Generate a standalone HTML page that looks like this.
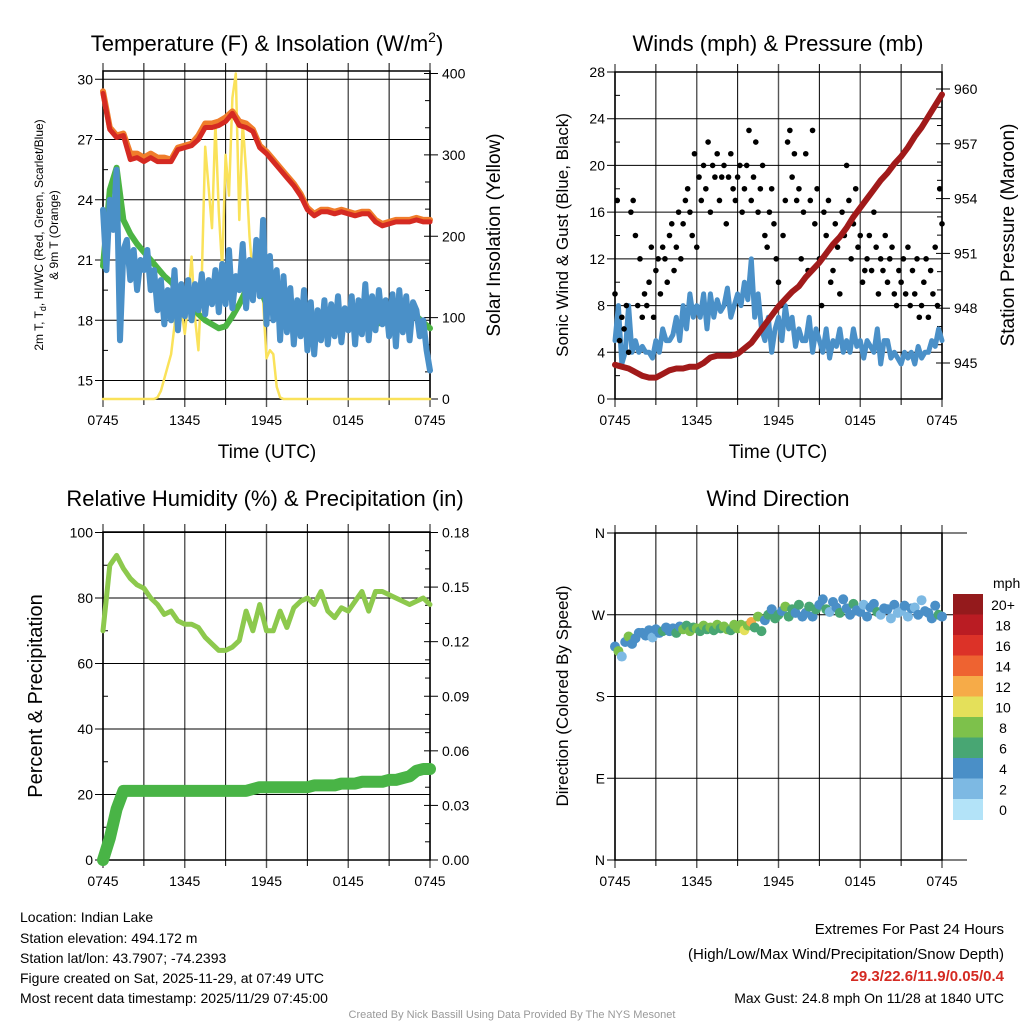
<!DOCTYPE html>
<html><head><meta charset="utf-8"><style>
html,body{margin:0;padding:0;background:#fff;}
svg{display:block;font-family:"Liberation Sans",sans-serif;}
</style></head><body>
<svg id="c" width="1024" height="1024" viewBox="0 0 1024 1024" xmlns="http://www.w3.org/2000/svg">
<rect x="0" y="0" width="1024" height="1024" fill="#fff"/>
<g font-size="22" text-anchor="middle" fill="#000">
<text x="267" y="51">Temperature (F) &amp; Insolation (W/m<tspan font-size="14" dy="-9">2</tspan><tspan dy="9">)</tspan></text>
<text x="778" y="51">Winds (mph) &amp; Pressure (mb)</text>
<text x="265" y="506">Relative Humidity (%) &amp; Precipitation (in)</text>
<text x="778" y="506">Wind Direction</text>
</g>
<g font-size="19" text-anchor="middle">
<text x="267" y="458">Time (UTC)</text>
<text x="778" y="458">Time (UTC)</text>
<text transform="translate(500,235) rotate(-90)">Solar Insolation (Yellow)</text>
<text transform="translate(568,235) rotate(-90)" font-size="17">Sonic Wind &amp; Gust (Blue, Black)</text>
<text transform="translate(1014,235) rotate(-90)">Station Pressure (Maroon)</text>
<text transform="translate(42,696) rotate(-90)" font-size="20">Percent &amp; Precipitation</text>
<text transform="translate(568,696) rotate(-90)" font-size="17">Direction (Colored By Speed)</text>
</g>
<g font-size="12" text-anchor="middle">
<text transform="translate(43,235) rotate(-90)">2m T, T<tspan font-size="9" dy="3">d</tspan><tspan dy="-3">, HI/WC (Red, Green, Scarlet/Blue)</tspan></text>
<text transform="translate(58,235) rotate(-90)">&amp; 9m T (Orange)</text>
</g>
<g font-size="14" fill="#000">
<text x="20" y="922">Location: Indian Lake</text>
<text x="20" y="943">Station elevation: 494.172 m</text>
<text x="20" y="963">Station lat/lon: 43.7907; -74.2393</text>
<text x="20" y="983">Figure created on Sat, 2025-11-29, at 07:49 UTC</text>
<text x="20" y="1003">Most recent data timestamp: 2025/11/29 07:45:00</text>
<g text-anchor="end">
<text x="1004" y="934" font-size="15">Extremes For Past 24 Hours</text>
<text x="1004" y="959" font-size="15">(High/Low/Max Wind/Precipitation/Snow Depth)</text>
<text x="1004" y="981" font-size="15" font-weight="bold" fill="#d42a22">29.3/22.6/11.9/0.05/0.4</text>
<text x="1004" y="1003">Max Gust: 24.8 mph On 11/28 at 1840 UTC</text>
</g>
<text x="512" y="1018" font-size="11" fill="#999" text-anchor="middle">Created By Nick Bassill Using Data Provided By The NYS Mesonet</text>
</g>
</svg>
<script>
// ---- data ----
const timeLabels = ["0745","1345","1945","0145","0745"];
const tempTicks = [15,18,21,24,27,30];
const solarTicks = [0,100,200,300,400];
const windTicks = [0,4,8,12,16,20,24,28];
const pressTicks = [945,948,951,954,957,960];
const rhTicks = [0,20,40,60,80,100];
const precipTicks = [0,0.03,0.06,0.09,0.12,0.15,0.18];
const dirTicks = ["N","E","S","W","N"];
const speedBins = ["0","2","4","6","8","10","12","14","16","18","20+"];
const speedColors = ["#b3e3f8","#7db9e3","#4a8fc7","#48a673","#7dc14b","#e4e05a","#f6ab48","#ee6331","#dc3228","#ba1c23","#941a1c"];

const tempRed = [29.3,27.5,27.1,27.2,26.0,26.1,25.9,26.1,25.9,25.9,25.9,26.5,26.6,26.7,27.0,27.6,27.6,27.7,27.9,28.3,27.7,27.6,27.4,26.6,26.3,25.9,25.5,25.1,24.7,24.2,23.5,23.2,23.4,23.4,23.3,23.4,23.3,23.2,23.3,23.3,22.9,22.7,22.8,22.9,22.9,22.9,23.0,22.9,22.9];
const tempOrange = [29.4,27.6,27.2,27.3,26.3,26.3,26.1,26.3,26.1,26.1,26.0,26.6,26.7,26.8,27.2,27.8,27.8,27.9,28.1,28.4,27.9,27.8,27.5,26.7,26.4,26.0,25.6,25.2,24.8,24.3,23.6,23.3,23.5,23.5,23.4,23.5,23.4,23.3,23.4,23.4,23.0,22.8,22.9,23.0,23.0,23.0,23.1,23.0,23.0];
const tempGreen = [20.7,24.5,25.6,23.0,22.3,21.8,21.4,21.0,20.6,20.2,19.9,19.5,19.3,18.8,18.3,18.0,17.8,17.6,17.7,18.2,18.8,19.5,20.0,19.6,18.8,18.5,18.3,18.0,18.2,17.9,17.5,17.8,17.9,17.6,17.7,18.0,17.8,17.6,17.9,18.1,17.8,17.9,18.2,18.0,17.9,18.1,18.2,17.9,17.6];
const tempBlue = [23.5,20.5,24,22.5, 25.5,17,21.5,22.0, 20.0,21.5,19.5,21.0, 20.5,21.5,19.5,20.5, 18.5,20.0,17.8,19.5, 18.0,20.5,17.5,19.8, 18.2,20.0,18.0,19.8, 18.5,20.3,18.3,20.0, 18.8,20.5,18.4,20.8, 18.8,21.5,18.6,20.2, 19.5,21.8,18.6,21.0, 19.0,22.0,19.2,23.0, 17.8,21.2,18.0,20.5, 17.0,20.2,17.4,19.6, 16.8,19.0,17.2,19.5, 16.5,18.9,16.3,18.5, 17.0,19.0,16.8,18.8, 17.2,19.2,16.9,18.6, 17.5,19.2,16.8,19.0, 17.3,19.8,17.0,19.2, 17.5,19.5,17.8,19.0, 17.2,19.3,16.7,19.5, 17.4,19.2,17.0,18.9, 18.5,17.2,18.0,16.5, 15.5];
const solar = [0,0,0,0,0,0,0,0,0,0,0,0,0,0,0,0, 2,10,25,40,55,90,135,110,80,120,175,100,60,150,310,260,210,340,230,160,300,250,370,400,220,340,280,200,150,170,185,120,50,60,55,15,2, 0,0,0,0,0,0,0,0,0,0,0,0,0,0,0,0,0,0,0,0,0,0,0,0,0,0,0,0,0,0,0,0,0,0,0,0,0,0,0,0,0,0,0,0];

const windSpeed = [5,8,3,4, 8,4,5,4, 4.5,4,4,3.5, 5,4,6,5, 5,5.5,7,5, 8,6,9,7, 8,7,9,6, 9,7,8.5,7.5, 8,9.5,7,8, 9,8,10,8.5, 12,7,9,6, 5,7,4,6, 7,5,8,6, 7,4.5,6,5, 5,7,4,6, 5,4,6,3.5, 5,4.5,6,4, 5,4,6,4.5, 5,3.5,5,4.5, 4,6,3,5, 5,3.5,4,3.5, 3,4,3.5,4, 3,4.5,3.5,4, 4,5,4.5,6, 5];
const windGust = [9,17,5,7,6,8, 4,16,17,14,8,12, 7,9,8,10,13,7, 11,12,9,13,12,10, 14,15,11,13,16,12, 15,17,18,16,14,21, 13,19,17,20,18,22, 16,20,19,21,17,19, 20,15,19,21,18,17, 19,20,16,18,20,23, 17,19,22,16,18,20, 14,13,16,18,15,12, 10,8,14,17,22,23, 19,21,17,18,12,16, 21,11,17,23,15,18, 12,8,16,14,17,10, 11,15,13,9,16,14, 20,17,12,15,18,13, 14,10,11,12,14,11, 16,13,9,12,11,14, 10,12,13,9,8,11, 10,12,9,13,8,11, 9,12,7,8,10,12, 7,11,9,13,8,18, 15];
const pressure = [944.9,944.8,944.7,944.5,944.3,944.2,944.2,944.4,944.6,944.7,944.7,944.8,944.8,945.0,945.3,945.4,945.4,945.4,945.5,945.8,946.1,946.6,947.1,947.6,948.1,948.5,948.9,949.2,949.7,950.1,950.5,951.0,951.5,951.9,952.4,953.0,953.5,954.0,954.5,955.0,955.4,955.9,956.3,956.8,957.4,957.9,958.5,959.1,959.7];

const rh = [70,90,93,89,86,84,83,80,78,75,76,73,72,72,71,68,66,64,64,65,67,76,70,78,70,70,76,71,77,79,80,78,82,76,74,77,76,79,82,76,82,82,81,80,79,78,79,80,78];
const precip = [0,0.012,0.028,0.038,0.038,0.038,0.038,0.038,0.038,0.038,0.038,0.038,0.038,0.038,0.038,0.038,0.038,0.038,0.038,0.038,0.038,0.038,0.039,0.040,0.040,0.040,0.040,0.040,0.040,0.040,0.040,0.041,0.041,0.041,0.041,0.042,0.042,0.042,0.043,0.043,0.043,0.043,0.044,0.044,0.045,0.046,0.049,0.050,0.050];
const windDir = [235,230,224,240, 246,238,244,250, 250,247,253,245, 254,250,252,256, 252,255,250,257, 254,258,252,256, 255,252,258,254, 256,253,259,255, 257,254,253,259, 255,259,253,258, 262,256,268,252, 264,270,276,266, 270,274,279,268, 276,272,281,268, 272,279,268,276, 281,287,276,273, 284,278,272,287, 277,270,282,275, 273,281,268,278, 282,273,270,277, 276,266,281,272, 274,280,268,277, 278,270,286,274, 272,266,280,270, 268];

// ---- drawing ----
const svg = document.getElementById('c');
const NS = 'http://www.w3.org/2000/svg';
function mk(tag, attrs, parent){const e=document.createElementNS(NS,tag);for(const k in attrs)e.setAttribute(k,attrs[k]);(parent||svg).appendChild(e);return e;}
function lin(d0,d1,r0,r1){return v=>r0+(v-d0)/(d1-d0)*(r1-r0);}

function frame(x0,x1,y0,y1,name){
  const g=mk('g',{});
  
  
  for(let i=0;i<=8;i++){const x=x0+i*(x1-x0)/8;
    const l=mk('line',{x1:x,x2:x,y1:y0-8,y2:y1+(i%2==0?8:6),stroke:i%2?'#000':'#555','stroke-width':i%2?1:1.4},g);
    
    
  }
  for(let i=0;i<timeLabels.length;i++){const x=x0+i*(x1-x0)/4;
    const t=mk('text',{x:x,y:y1+26,'font-size':14,'text-anchor':'middle'},g);t.textContent=timeLabels[i];
    
    
  }
  mk('rect',{x:x0,y:y0,width:x1-x0,height:y1-y0,fill:'none',stroke:'#000','stroke-width':1.5},g);
  return g;
}
function leftAxis(ticks,sc,x0,x1,grid,minor,labels){
  ticks.forEach((v,i)=>{const y=sc(v);
    if(grid){const l=mk('line',{x1:x0-8,x2:x1,y1:y,y2:y,stroke:'#000','stroke-width':1});
      
      }
    const t=mk('text',{x:x0-10,y:y+5,'font-size':14,'text-anchor':'end'});t.textContent=labels?labels[i]:v;
    
    
    if(minor&&i<ticks.length-1){const y2=sc(v+(ticks[1]-ticks[0])/2);mk('line',{x1:x0,x2:x0+5,y1:y2,y2:y2,stroke:'#000'});}
  });
}
function rightAxis(ticks,sc,x1,fmt){
  ticks.forEach((v,i)=>{const y=sc(v);
    mk('line',{x1:x1-6,x2:x1+8,y1:y,y2:y,stroke:'#000'});
    const t=mk('text',{x:x1+12,y:y+5,'font-size':14});t.textContent=fmt?fmt(v):v;
    
    
    if(i<ticks.length-1){const st=(ticks[1]-ticks[0])/3;for(let k=1;k<3;k++){const yy=sc(v+st*k);mk('line',{x1:x1-5,x2:x1,y1:yy,y2:yy,stroke:'#000'});}}
  });
}
function series(arr,xs,ys,color,w,name,x0,x1){
  const n=arr.length;const pts=arr.map((v,i)=>{const x=x0+i/(n-1)*(x1-x0);return x.toFixed(1)+','+ys(v).toFixed(1);}).join(' ');
  const p=mk('polyline',{points:pts,fill:'none',stroke:color,'stroke-width':w,'stroke-linejoin':'round','stroke-linecap':'round'});
  
  
  return p;
}

// Panel 1
{const x0=103,x1=430,y0=71,y1=399;
 const yT=lin(15,30,380.5,79.3), yS=lin(0,400,399,73.5);
 frame(x0,x1,y0,y1,'temperature');
 leftAxis(tempTicks,yT,x0,x1,true,true);
 rightAxis(solarTicks,yS,x1);
 series(solar,null,yS,'#fae25a',2.5,'solar-insolation-line',x0,x1);
 series(tempGreen,null,yT,'#4cb444',6,'heat-index-line',x0,x1);
 series(tempBlue,null,yT,'#4a90c8',6,'dewpoint-line',x0,x1);
 series(tempOrange,null,yT,'#f07d2b',6,'temp-9m-line',x0,x1);
 series(tempRed,null,yT,'#d52a22',5,'temp-2m-line',x0,x1);
}
// Panel 2
{const x0=615,x1=942,y0=72,y1=399;
 const yW=lin(0,28,399,72), yP=lin(945,960,363,89);
 frame(x0,x1,y0,y1,'winds');
 leftAxis(windTicks,yW,x0,x1,true,true);
 rightAxis(pressTicks,yP,x1);
 series(windSpeed,null,yW,'#4a90c8',5,'sonic-wind-line',x0,x1);
 const n=windGust.length;
 windGust.forEach((v,i)=>{const c=mk('circle',{cx:x0+i/(n-1)*(x1-x0),cy:yW(v),r:2.8,fill:'#000'});
   
   });
 series(pressure,null,yP,'#a11a1a',6,'pressure-line',x0,x1);
}
// Panel 3
{const x0=103,x1=430,y0=532,y1=860;
 const yR=lin(0,100,860,532.5), yPr=lin(0,0.18,860,532.5);
 frame(x0,x1,y0,y1,'humidity');
 leftAxis(rhTicks,yR,x0,x1,true,true);
 rightAxis(precipTicks,yPr,x1,v=>v.toFixed(2));
 series(rh,null,yR,'#8dc94d',5,'humidity-line',x0,x1);
 series(precip,null,yPr,'#49b446',12,'precipitation-line',x0,x1);
}
// Panel 4
{const x0=615,x1=942,y0=533,y1=860;
 const yD=lin(0,360,860,533);
 frame(x0,x1,y0,y1,'direction');
 leftAxis([0,90,180,270,360],yD,x0,x1+25,true,false,dirTicks);
 const n=windDir.length;
 windDir.forEach((v,i)=>{const s=windSpeed[i];const b=Math.min(10,Math.floor(s/2));
   const c=mk('circle',{cx:x0+i/(n-1)*(x1-x0),cy:yD(v),r:5,fill:speedColors[b]});
   
   });
 // colorbar
 const cb=mk('g',{});
 
 
 const top=594,h=20.5;
 const t=mk('text',{x:993,y:588,'font-size':14},cb);t.textContent='mph';
 for(let i=0;i<speedBins.length;i++){const j=speedBins.length-1-i;
   mk('rect',{x:953,y:top+i*h,width:30,height:h+0.5,fill:speedColors[j]},cb);
   const lb=mk('text',{x:1003,y:top+i*h+16,'font-size':14,'text-anchor':'middle'},cb);lb.textContent=speedBins[j];
   
   
 }
}
</script>
</body></html>
